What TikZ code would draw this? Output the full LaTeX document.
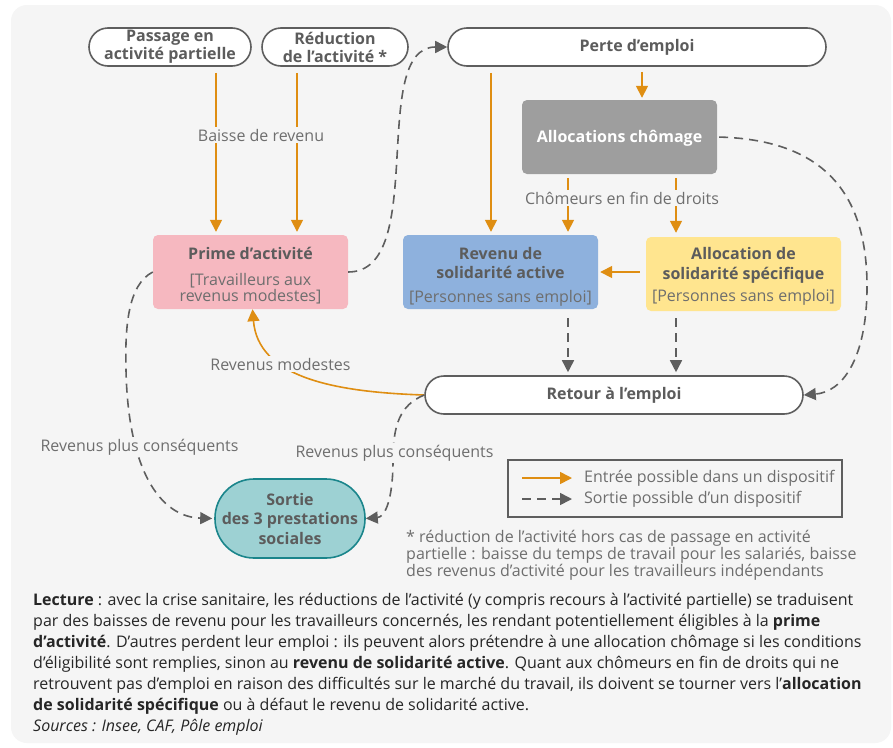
\documentclass[tikz,border=0pt]{standalone}
\usepackage{fontspec}
\setmainfont{Open Sans}
\usetikzlibrary{arrows.meta}
\definecolor{bg}{HTML}{F5F5F5}
\definecolor{labgray}{HTML}{5C5C5C}
\definecolor{subgray}{HTML}{6E6E6E}
\definecolor{linegray}{HTML}{5E5E5E}
\definecolor{orangec}{HTML}{DF8E12}
\definecolor{boxgray}{HTML}{9E9E9E}
\definecolor{pinkc}{HTML}{F6B8C0}
\definecolor{bluec}{HTML}{8EB1DD}
\definecolor{yellowc}{HTML}{FFE58F}
\definecolor{tealfill}{HTML}{9DD1D3}
\definecolor{tealline}{HTML}{1A858B}
\definecolor{textdark}{HTML}{262626}
\begin{document}
\begin{tikzpicture}[x=1pt,y=-1pt,
  stadium/.style={draw=linegray, line width=1.6pt, fill=white, rounded corners=19pt,
    minimum height=38pt, inner sep=0pt, align=center, text=labgray,
    font=\bfseries\fontsize{16}{18}\selectfont},
  infobox/.style={rounded corners=5pt, minimum width=195pt, minimum height=74pt,
    inner sep=0pt},
  boxtext/.style={inner sep=0pt, align=center, text=labgray, font=\fontsize{16}{19}\selectfont},
  entry/.style={draw=orangec, line width=1.6pt, -{Triangle[length=12pt,width=12pt]}},
  exitarrow/.style={draw=linegray, line width=1.6pt, dash pattern=on 9pt off 6pt,
    -{Triangle[length=12pt,width=12pt]}},
  lab/.style={fill=bg, text=subgray, inner sep=2pt, font=\fontsize{16}{18}\selectfont}]
\useasboundingbox (0,0) rectangle (893,747);
\fill[white] (0,0) rectangle (893,747);
\fill[bg, rounded corners=16pt] (11,5) rectangle (891,743);

% nodes
\node[stadium, minimum width=162pt] (pass) at (170,47) {Passage en\\activité partielle};
\node[stadium, minimum width=146pt] (red) at (335,47) {Réduction\\de l’activité *};
\node[stadium, minimum width=378pt] (perte) at (637,47) {Perte d’emploi};
\node[infobox, fill=boxgray] (chom) at (619.5,137) {};
\node[boxtext, text=white] (chomtxt) at ([yshift=-1.5pt]chom.center) {\textbf{Allocations chômage}};
\node[infobox, fill=pinkc] (prime) at (250.5,272) {};
\node[boxtext] (primetxt) at ([yshift=-4pt]prime.center)
  {\textbf{Prime d’activité}\\[7pt]\color{subgray}{[}Travailleurs aux\\[-3pt]\color{subgray}revenus modestes{]}};
\node[infobox, fill=bluec] (rsa) at (500.5,272) {};
\node[boxtext] (rsatxt) at ([yshift=-4.5pt]rsa.center)
  {\textbf{Revenu de}\\\textbf{solidarité active}\\[5pt]\color{subgray}{[}Personnes sans emploi{]}};
\node[infobox, fill=yellowc] (ass) at (743.5,274) {};
\node[boxtext] (asstxt) at ([yshift=-2pt]ass.center)
  {\textbf{Allocation de}\\[1pt]\textbf{solidarité spécifique}\\[3pt]\color{subgray}{[}Personnes sans emploi{]}};
\node[stadium, minimum width=378pt] (retour) at (614,395) {Retour à l’emploi};
\node[draw=tealline, fill=tealfill, line width=1.6pt, rounded corners=39pt,
  minimum width=150pt, minimum height=79pt, inner sep=0pt, align=center, text=labgray,
  font=\bfseries\fontsize{16}{19.5}\selectfont] (sortie) at (290,518.5)
  {Sortie\\des 3 prestations\\sociales};

% entry arrows (orange)
\draw[entry, shorten <=6pt, shorten >=3pt] ([xshift=46pt]pass.south) -- ([xshift=-34.5pt]prime.north);
\draw[entry, shorten <=6pt, shorten >=3pt] ([xshift=-38pt]red.south) -- ([xshift=46.5pt]prime.north);
\node[lab] (baisse) at (261,135) {Baisse de revenu};
\draw[entry, shorten <=6pt, shorten >=3pt] ([xshift=-146pt]perte.south) -- ([xshift=-9.5pt]rsa.north);
\draw[entry, shorten <=5pt, shorten >=2pt] ([xshift=5pt]perte.south) -- ([xshift=22.5pt]chom.north);
\draw[entry, shorten <=4pt, shorten >=3pt] ([xshift=-51.5pt]chom.south) -- ([xshift=67.5pt]rsa.north);
\draw[entry, shorten <=4pt, shorten >=4pt] ([xshift=56.5pt]chom.south) -- ([xshift=-67.5pt]ass.north);
\node[lab] (chomlab) at (622,198) {Chômeurs en fin de droits};
\draw[entry, shorten <=6pt, shorten >=2pt] ([yshift=2pt]ass.west) -- (rsa.east);
\draw[entry] (retour.west) .. controls (330,392) and (258,376) .. ([xshift=2pt]prime.south);
\node[lab] (modestes) at (280.5,364) {Revenus modestes};

% exit arrows (dashed)
\draw[exitarrow, shorten <=9pt, shorten >=3pt] ([xshift=67.5pt]rsa.south) -- ([xshift=-46pt]retour.north);
\draw[exitarrow, shorten <=7pt, shorten >=3pt] ([xshift=-67.5pt]ass.south) -- ([xshift=62pt]retour.north);
\draw[exitarrow, shorten <=2pt] (chom.east) .. controls (830,140) and (868,200) .. (867,290)
  .. controls (866,360) and (842,392) .. (retour.east);
\draw[exitarrow] (prime.east) .. controls (429,272) and (368,47) .. (perte.west);
\draw[exitarrow, shorten >=2pt] (prime.west) .. controls (127,285) and (125,330) .. (126,370)
  .. controls (128,470) and (160,517) .. (sortie.west);
\draw[exitarrow] (retour.west) .. controls (400,405) and (393,425) .. (393,460)
  .. controls (393,500) and (385,517) .. (sortie.east);
\node[lab] (plus1) at (139.5,447) {Revenus plus conséquents};
\node[lab] (plus2) at (394.5,453) {Revenus plus conséquents};

% legend
\node[draw=linegray, line width=1.1pt, minimum width=334pt, minimum height=57pt, inner sep=0pt] (legend) at (675,488.5) {};
\coordinate (l1a) at (522,478);
\coordinate (l1b) at (572,478);
\coordinate (l2a) at (522,499);
\coordinate (l2b) at (572,499);
\draw[entry] (l1a) -- (l1b);
\draw[exitarrow] (l2a) -- (l2b);
\node[anchor=west, text=subgray, inner sep=0pt, font=\fontsize{16}{18}\selectfont] (leg1) at (584,478) {Entrée possible dans un dispositif};
\node[anchor=west, text=subgray, inner sep=0pt, font=\fontsize{16}{18}\selectfont] (leg2) at (584,499) {Sortie possible d’un dispositif};

% footnote
\node[anchor=north west, align=left, text=subgray, inner sep=0pt, font=\fontsize{16}{15.5}\selectfont] (foot) at (406,530)
  {* réduction de l’activité hors cas de passage en activité\\partielle : baisse du temps de travail pour les salariés, baisse\\des revenus d’activité pour les travailleurs indépendants};

% lecture
\node[anchor=north west, align=left, text=textdark, inner sep=0pt, font=\fontsize{16}{21}\selectfont] (lecture) at (33,593)
  {\textbf{Lecture} : avec la crise sanitaire, les réductions de l’activité (y compris recours à l’activité partielle) se traduisent\\
   par des baisses de revenu pour les travailleurs concernés, les rendant potentiellement éligibles à la \textbf{prime}\\
   \textbf{d’activité}. D’autres perdent leur emploi : ils peuvent alors prétendre à une allocation chômage si les conditions\\
   d’éligibilité sont remplies, sinon au \textbf{revenu de solidarité active}. Quant aux chômeurs en fin de droits qui ne\\
   retrouvent pas d’emploi en raison des difficultés sur le marché du travail, ils doivent se tourner vers l’\textbf{allocation}\\
   \textbf{de solidarité spécifique} ou à défaut le revenu de solidarité active.\\
   \textit{Sources : Insee, CAF, Pôle emploi}};
\end{tikzpicture}
\end{document}
